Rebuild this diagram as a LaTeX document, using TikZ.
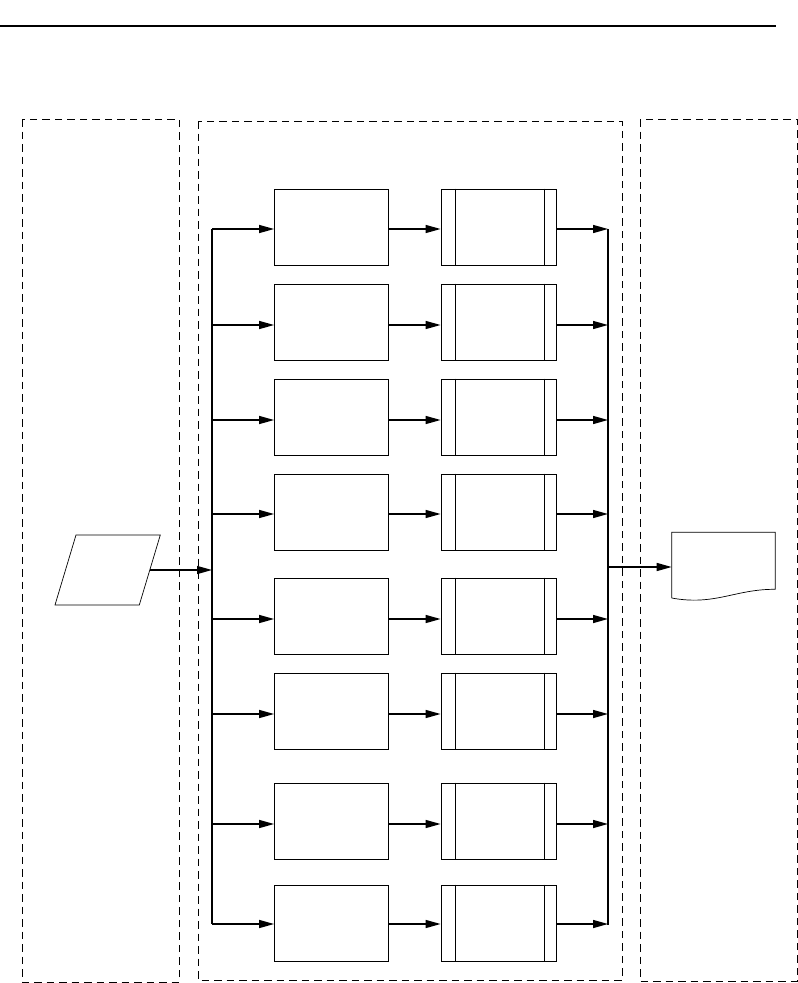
\documentclass[tikz,border=0pt]{standalone}
\usetikzlibrary{arrows.meta,calc}
\begin{document}
\begin{tikzpicture}[x=1pt,y=-1pt,
  panel/.style={draw,line width=0.8pt,dash pattern=on 7.5pt off 5pt},
  procbox/.style={draw,line width=0.8pt,minimum width=114pt,minimum height=76pt,inner sep=0pt},
  subbox/.style={draw,line width=0.8pt,minimum width=115pt,minimum height=76pt,inner sep=0pt},
  bus/.style={line width=1.6pt},
  arr/.style={line width=1.4pt,-{Triangle[length=15pt,width=8pt]}},
  shapeline/.style={line width=0.7pt}
]
\useasboundingbox (0,0) rectangle (798,983);
% top rule
\draw[line width=2pt] (0,26) -- (776,26);
% panels
\draw[panel] (22,119) rectangle (179,982);
\draw[panel] (198,121) rectangle (622,980);
\draw[panel] (640,119) rectangle (797,981);
% buses
\coordinate (lbusT) at (212,229);
\coordinate (lbusB) at (212,924);
\coordinate (rbusT) at (608,229);
\coordinate (rbusB) at (608,925);
\draw[bus] (lbusT) -- (lbusB);
\draw[bus] (rbusT) -- (rbusB);
% rows: index / box centre / arrow offset
\foreach \i/\c/\d in {1/227/2,2/322/3,3/417/3,4/512/2,5/616/3,6/711/3,7/821/3,8/923/1}{
  \node[procbox] (l\i) at (331.5,\c) {};
  \node[subbox] (r\i) at (498.5,\c) {};
  \draw[line width=0.8pt] ($(r\i.north west)+(15,0)$) -- ($(r\i.south west)+(15,0)$);
  \draw[line width=0.8pt] ($(r\i.north east)+(-12.5,0)$) -- ($(r\i.south east)+(-12.5,0)$);
  \draw[arr] ([yshift=-\d pt]l\i.west -| lbusT) -- ([yshift=-\d pt]l\i.west);
  \draw[arr] ([yshift=-\d pt]l\i.east) -- ([yshift=-\d pt]r\i.west);
  \draw[arr] ([yshift=-\d pt]r\i.east) -- ([yshift=-\d pt]r\i.east -| rbusT);
}
% input (parallelogram)
\draw[shapeline] (76,535) -- (160.3,535) -- (139.3,605) -- (55,605) -- cycle;
\coordinate (in) at (149.8,570);
\coordinate (inp) at (212,570);
\draw[arr] (in) -- (inp);
% output document
\coordinate (doc) at (671.7,567);
\draw[shapeline] (671.7,598) -- (671.7,532.3) -- (775.3,532.3) -- (775.3,589.3)
  .. controls (735,589) and (715,606) .. (671.7,598);
\coordinate (outp) at (608,567);
\draw[arr] (outp) -- (doc);
\end{tikzpicture}
\end{document}
